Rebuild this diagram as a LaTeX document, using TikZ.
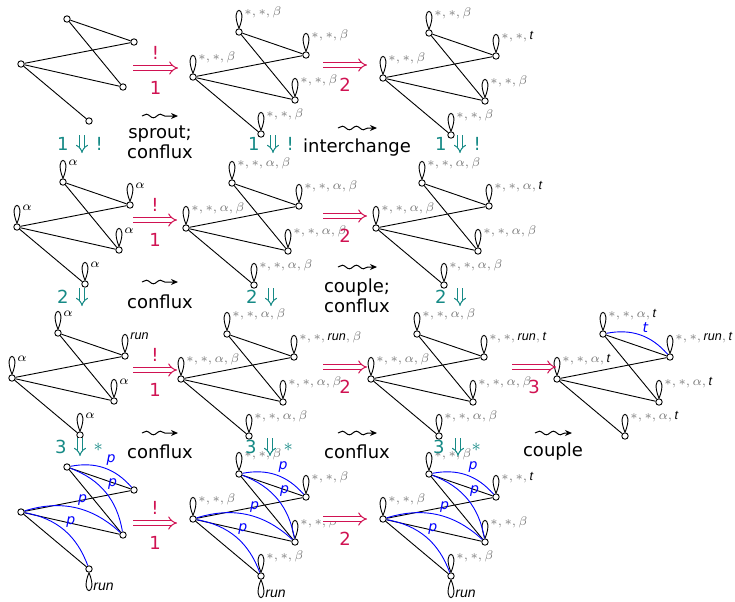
\documentclass[tikz,border=0pt]{standalone}
\usepackage{amsmath,amssymb}
\usepackage{graphicx}
\usepackage{fontspec}
\setmainfont{DejaVu Sans}
\newfontfamily\lbfont{Liberation Sans}
\usepackage{xcolor}
\usepackage{tikz}
\usetikzlibrary{arrows.meta, calc, decorations.pathmorphing}

\definecolor{crim}{RGB}{208,18,82}
\definecolor{tl}{RGB}{22,138,134}
\definecolor{lblgray}{RGB}{120,120,120}

% one graph, placed from its left vertex
\newcommand{\fivegraph}[3]{%
  \node[vtx] (#1l) at (#2,#3) {};
  \node[vtx] (#1t) at (#2+46,#3-45) {};
  \node[vtx] (#1ru) at (#2+113,#3-22) {};
  \node[vtx] (#1rl) at (#2+102,#3+23) {};
  \node[vtx] (#1b) at (#2+68,#3+57) {};
  \draw[edg] (#1t) -- (#1ru) (#1t) -- (#1rl) (#1l) -- (#1ru) (#1l) -- (#1rl) (#1l) -- (#1b);
}
% loop above a vertex, with its label
\newcommand{\uplp}[3][lblgray]{%
  \draw[edg] (#2.north) .. controls +(-5pt,12pt) and +(5pt,12pt) .. (#2.north);
  \node[lbl, text=#1] at ([shift={(2.5pt,8.5pt)}]#2.center) {\scalebox{0.9}{$#3$}};
}
% loop below a vertex
\newcommand{\dnlp}[2]{%
  \draw[edg] (#1.south) .. controls +(-5pt,-12pt) and +(5pt,-12pt) .. (#1.south);
  \node[lbl, text=black] at ([shift={(2pt,-10.5pt)}]#1.center) {#2};
}
\newcommand{\itx}[1]{\text{\lbfont\itshape #1}}
\newcommand{\blk}[1]{\textcolor{black}{\itx{#1}}}

\begin{document}
\begin{tikzpicture}[x=0.5pt, y=-0.5pt,
    vtx/.style={circle, draw, fill=white, minimum size=3.2pt, inner sep=0pt, line width=0.45pt},
    edg/.style={line width=0.45pt},
    blu/.style={blue, line width=0.45pt, bend left=30},
    lbl/.style={anchor=base west, inner sep=0pt, font=\fontsize{7}{8}\selectfont},
    plab/.style={auto, inner sep=1pt, text=blue, font=\fontsize{7}{8}\selectfont\itshape},
    imp/.style={crim, double, double distance=1.8pt, line width=0.5pt, -{Implies}},
    dimp/.style={tl, double, double distance=1.6pt, line width=0.5pt, -{Implies}},
    sqg/.style={-{Stealth[length=3.5pt, width=3pt]}, line width=0.5pt, decorate,
      decoration={snake, amplitude=0.9pt, segment length=7pt, post length=3.5pt}},
    rlab/.style={text=crim, inner sep=1pt, font=\fontsize{9}{10}\selectfont},
    tlab/.style={text=tl, inner sep=1pt, font=\fontsize{9}{10}\selectfont},
    txt/.style={align=center, inner sep=0pt, font=\fontsize{9}{10}\selectfont},
]
\useasboundingbox (0,0) rectangle (735,601);

% graphs
\fivegraph{g11}{21}{64}
\fivegraph{g12}{193}{77}
\fivegraph{g13}{383}{78}
\fivegraph{g21}{17}{227}
\fivegraph{g22}{186}{228}
\fivegraph{g23}{376}{228}
\fivegraph{g31}{12}{378}
\fivegraph{g32}{181}{379}
\fivegraph{g33}{371}{379}
\fivegraph{g34}{557}{379}
\fivegraph{g41}{21}{512}
\fivegraph{g42}{193}{519}
\fivegraph{g43}{383}{519}

% loops, row 1
\foreach \v in {l,t,ru,rl,b} {\uplp{g12\v}{*,*,\beta}}
\foreach \v in {l,t,rl,b} {\uplp{g13\v}{*,*,\beta}}
\uplp{g13ru}{*,*,\blk{t}}
% row 2
\foreach \v in {l,t,ru,rl,b} {\uplp[black]{g21\v}{\alpha}}
\foreach \v in {l,t,ru,rl,b} {\uplp{g22\v}{*,*,\alpha,\beta}}
\foreach \v in {l,t,rl,b} {\uplp{g23\v}{*,*,\alpha,\beta}}
\uplp{g23ru}{*,*,\alpha,\blk{t}}
% row 3
\foreach \v in {l,t,rl,b} {\uplp[black]{g31\v}{\alpha}}
\uplp[black]{g31ru}{\itx{run}}
\foreach \v in {l,t,rl,b} {\uplp{g32\v}{*,*,\alpha,\beta}}
\uplp{g32ru}{*,*,\blk{run},\beta}
\foreach \v in {l,t,rl,b} {\uplp{g33\v}{*,*,\alpha,\beta}}
\uplp{g33ru}{*,*,\blk{run},\blk{t}}
\foreach \v in {l,t,rl,b} {\uplp{g34\v}{*,*,\alpha,\blk{t}}}
\uplp{g34ru}{*,*,\blk{run},\blk{t}}
\draw[blu] (g34t) to node[plab]{t} (g34ru);
% row 4
\foreach \v in {l,t,ru,rl,b} {\uplp{g42\v}{*,*,\beta}}
\foreach \v in {l,t,rl,b} {\uplp{g43\v}{*,*,\beta}}
\uplp{g43ru}{*,*,\blk{t}}
\foreach \g in {g41,g42,g43} {
  \dnlp{\g b}{{\lbfont\itshape run}}
  \draw[blu] (\g t) to node[plab]{p} (\g ru);
  \draw[blu] (\g t) to node[plab]{p} (\g rl);
  \draw[blu] (\g l) to node[plab]{p} (\g rl);
  \draw[blu] (\g l) to node[plab]{p} (\g b);
}

% rewriting steps
\coordinate (a11s) at (133,68);  \coordinate (a11e) at (178,68);
\coordinate (a12s) at (323,65);  \coordinate (a12e) at (367,65);
\coordinate (a21s) at (133,220); \coordinate (a21e) at (177,220);
\coordinate (a22s) at (323,216); \coordinate (a22e) at (367,216);
\coordinate (a31s) at (133,370); \coordinate (a31e) at (177,370);
\coordinate (a32s) at (323,367); \coordinate (a32e) at (367,367);
\coordinate (a33s) at (512,367); \coordinate (a33e) at (556,367);
\coordinate (a41s) at (133,523); \coordinate (a41e) at (177,523);
\coordinate (a42s) at (323,519); \coordinate (a42e) at (367,519);
\draw[imp] (a11s) -- node[rlab, above=3pt]{!} node[rlab, below=5.5pt]{1} (a11e);
\draw[imp] (a12s) -- node[rlab, below=5.5pt]{2} (a12e);
\draw[imp] (a21s) -- node[rlab, above=3pt]{!} node[rlab, below=5.5pt]{1} (a21e);
\draw[imp] (a22s) -- node[rlab, below=5.5pt]{2} (a22e);
\draw[imp] (a31s) -- node[rlab, above=3pt]{!} node[rlab, below=5.5pt]{1} (a31e);
\draw[imp] (a32s) -- node[rlab, below=5.5pt]{2} (a32e);
\draw[imp] (a33s) -- node[rlab, below=5.5pt]{3} (a33e);
\draw[imp] (a41s) -- node[rlab, above=3pt]{!} node[rlab, below=5.5pt]{1} (a41e);
\draw[imp] (a42s) -- node[rlab, below=5.5pt]{2} (a42e);

% downward steps
\coordinate (d11s) at (82,135);  \coordinate (d11e) at (82,153);
\coordinate (d12s) at (273,135); \coordinate (d12e) at (273,153);
\coordinate (d13s) at (460,135); \coordinate (d13e) at (460,153);
\coordinate (d21s) at (82,288);  \coordinate (d21e) at (82,306);
\coordinate (d22s) at (271,288); \coordinate (d22e) at (271,306);
\coordinate (d23s) at (460,288); \coordinate (d23e) at (460,306);
\coordinate (d31s) at (80,438);  \coordinate (d31e) at (80,456);
\coordinate (d32s) at (270,438); \coordinate (d32e) at (270,456);
\coordinate (d33s) at (458,438); \coordinate (d33e) at (458,456);
\foreach \c in {d11,d12,d13} {\draw[dimp] (\c s) -- node[tlab, left=5.5pt]{1} node[tlab, right=5.5pt]{!} (\c e);}
\foreach \c in {d21,d22,d23} {\draw[dimp] (\c s) -- node[tlab, left=5.5pt]{2} (\c e);}
\foreach \c in {d31,d32,d33} {\draw[dimp] (\c s) -- node[tlab, left=5.5pt]{3} node[tlab, right=5.5pt]{$\ast$} (\c e);}

% squiggly steps
\coordinate (s11s) at (142,116); \coordinate (s11e) at (178,116);
\coordinate (s12s) at (338,128); \coordinate (s12e) at (377,128);
\coordinate (s21s) at (142,282); \coordinate (s21e) at (178,282);
\coordinate (s22s) at (338,267); \coordinate (s22e) at (377,267);
\coordinate (s31s) at (142,433); \coordinate (s31e) at (178,433);
\coordinate (s32s) at (338,433); \coordinate (s32e) at (377,433);
\coordinate (s33s) at (535,433); \coordinate (s33e) at (572,433);
\foreach \c in {s11,s12,s21,s22,s31,s32,s33} {\draw[sqg] (\c s) -- (\c e);}
\node[txt] (t11) at (160,142) {sprout;\\conflux};
\node[txt] (t12) at (357,148) {interchange};
\node[txt] (t21) at (160,302) {conflux};
\node[txt] (t22) at (357,296) {couple;\\conflux};
\node[txt] (t31) at (160,452) {conflux};
\node[txt] (t32) at (357,452) {conflux};
\node[txt] (t33) at (553,452) {couple};
\end{tikzpicture}
\end{document}
